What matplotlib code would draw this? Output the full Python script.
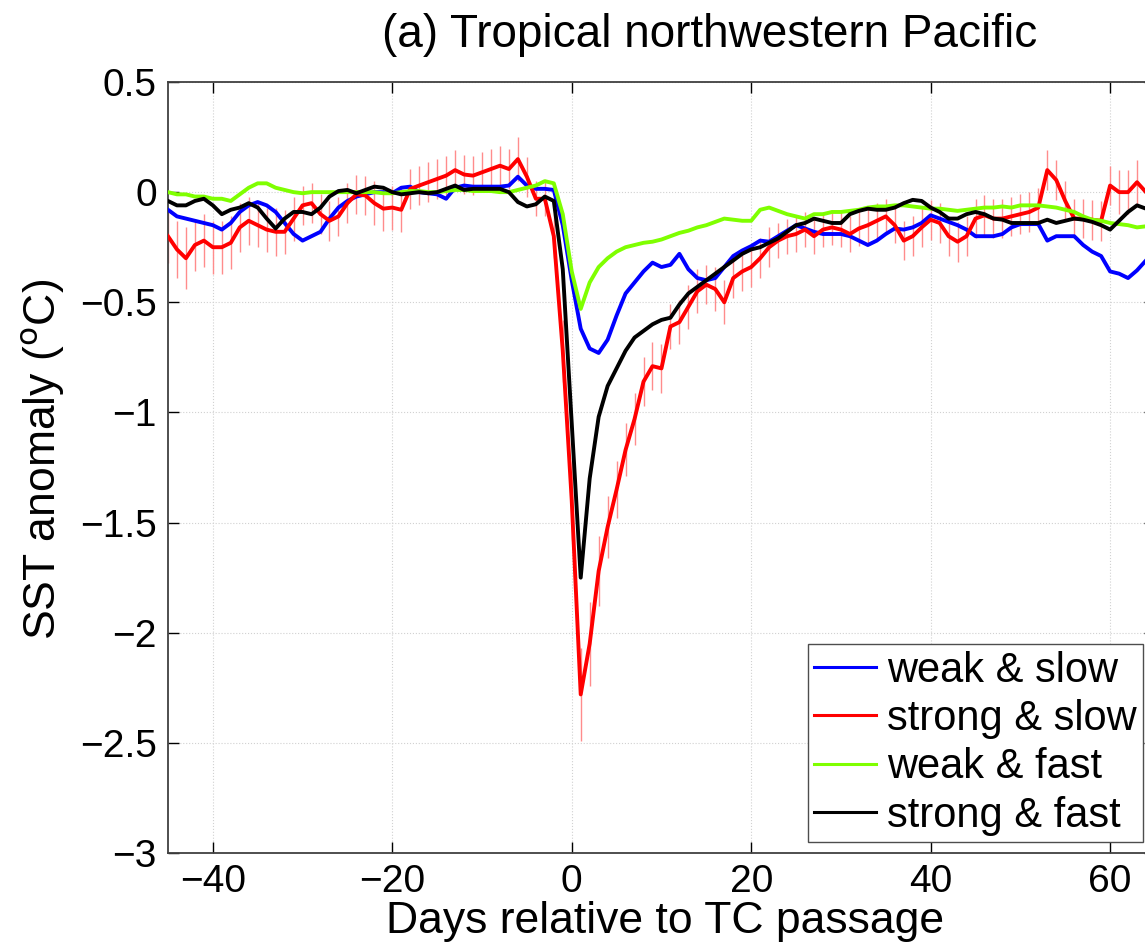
"""
SST anomaly composites around TC passage, tropical northwestern Pacific.

Four composites (weak/strong x slow/fast), red one with its error bars.
Output: out.png
"""

import matplotlib
matplotlib.use("Agg")
import matplotlib.pyplot as plt
import numpy as np

plt.rcParams["font.family"] = ["Liberation Sans", "DejaVu Sans"]

days = np.arange(-45, 65)

weak_slow = [
    -0.08, -0.11, -0.12, -0.13, -0.14, -0.15, -0.17, -0.14, -0.09, -0.06,
    -0.045, -0.06, -0.09, -0.14, -0.19, -0.22, -0.20, -0.18, -0.12, -0.07,
    -0.04, -0.02, -0.01, 0.0, 0.0, -0.005, 0.02, 0.025, 0.0, -0.005,
    -0.01, -0.03, 0.02, 0.03, 0.025, 0.025, 0.025, 0.025, 0.03, 0.07,
    0.03, 0.015, 0.015, 0.01, -0.15, -0.40, -0.62, -0.71, -0.73, -0.67,
    -0.56, -0.46, -0.41, -0.36, -0.32, -0.34, -0.33, -0.28, -0.35, -0.39,
    -0.40, -0.39, -0.34, -0.29, -0.265, -0.245, -0.22, -0.225, -0.20, -0.175,
    -0.15, -0.165, -0.18, -0.19, -0.19, -0.19, -0.20, -0.22, -0.24, -0.22,
    -0.19, -0.165, -0.17, -0.16, -0.14, -0.105, -0.12, -0.135, -0.15, -0.17,
    -0.20, -0.20, -0.20, -0.19, -0.16, -0.145, -0.145, -0.145, -0.22, -0.20,
    -0.20, -0.20, -0.24, -0.27, -0.29, -0.36, -0.37, -0.39, -0.355, -0.31,
]

strong_slow = [
    -0.20, -0.26, -0.30, -0.24, -0.22, -0.25, -0.25, -0.23, -0.16, -0.13,
    -0.15, -0.17, -0.18, -0.18, -0.12, -0.06, -0.05, -0.10, -0.13, -0.11,
    -0.05, -0.01, -0.015, -0.05, -0.075, -0.07, -0.08, 0.015, 0.03, 0.045,
    0.06, 0.075, 0.10, 0.08, 0.075, 0.09, 0.105, 0.12, 0.105, 0.15,
    0.07, -0.03, -0.03, -0.20, -0.72, -1.40, -2.28, -2.05, -1.72, -1.52,
    -1.35, -1.17, -1.03, -0.86, -0.79, -0.80, -0.61, -0.59, -0.52, -0.45,
    -0.42, -0.44, -0.50, -0.39, -0.36, -0.34, -0.30, -0.25, -0.22, -0.20,
    -0.19, -0.17, -0.20, -0.17, -0.16, -0.17, -0.19, -0.165, -0.15, -0.13,
    -0.11, -0.15, -0.22, -0.20, -0.16, -0.125, -0.14, -0.20, -0.225, -0.20,
    -0.12, -0.105, -0.12, -0.12, -0.11, -0.10, -0.09, -0.07, 0.10, 0.055,
    -0.04, -0.12, -0.12, -0.125, -0.13, 0.03, 0.0, 0.0, 0.045, 0.0,
]

strong_slow_err = [
    0.12, 0.13, 0.14, 0.12, 0.12, 0.12, 0.12, 0.12, 0.11, 0.11,
    0.10, 0.10, 0.11, 0.10, 0.10, 0.09, 0.09, 0.09, 0.09, 0.09,
    0.09, 0.09, 0.09, 0.10, 0.10, 0.10, 0.10, 0.09, 0.09, 0.09,
    0.09, 0.09, 0.09, 0.09, 0.09, 0.09, 0.09, 0.09, 0.09, 0.10,
    0.09, 0.08, 0.08, 0.10, 0.14, 0.18, 0.21, 0.19, 0.16, 0.14,
    0.13, 0.12, 0.12, 0.11, 0.11, 0.11, 0.10, 0.10, 0.10, 0.10,
    0.09, 0.10, 0.10, 0.09, 0.09, 0.09, 0.09, 0.09, 0.08, 0.08,
    0.08, 0.08, 0.08, 0.08, 0.08, 0.08, 0.08, 0.08, 0.08, 0.08,
    0.08, 0.08, 0.09, 0.09, 0.09, 0.09, 0.09, 0.09, 0.09, 0.09,
    0.09, 0.09, 0.09, 0.09, 0.09, 0.09, 0.09, 0.09, 0.09, 0.09,
    0.09, 0.09, 0.09, 0.09, 0.09, 0.09, 0.10, 0.10, 0.10, 0.10,
]

weak_fast = [
    0.0, -0.01, -0.01, -0.02, -0.02, -0.03, -0.03, -0.04, -0.01, 0.02,
    0.04, 0.04, 0.02, 0.01, 0.0, -0.005, 0.0, 0.0, 0.0, 0.0,
    0.0, 0.0, 0.0, 0.0, -0.005, -0.005, 0.0, 0.005, 0.005, 0.0,
    0.0, 0.005, 0.01, 0.01, 0.005, 0.005, 0.005, 0.0, 0.0, 0.01,
    0.02, 0.03, 0.05, 0.04, -0.10, -0.36, -0.53, -0.41, -0.34, -0.30,
    -0.27, -0.25, -0.24, -0.23, -0.225, -0.215, -0.20, -0.185, -0.175, -0.16,
    -0.15, -0.135, -0.12, -0.125, -0.13, -0.13, -0.08, -0.07, -0.085, -0.10,
    -0.11, -0.12, -0.10, -0.10, -0.09, -0.09, -0.085, -0.08, -0.07, -0.065,
    -0.065, -0.06, -0.06, -0.065, -0.07, -0.075, -0.075, -0.08, -0.085, -0.08,
    -0.075, -0.07, -0.07, -0.065, -0.07, -0.06, -0.06, -0.06, -0.065, -0.07,
    -0.08, -0.09, -0.11, -0.125, -0.13, -0.14, -0.145, -0.15, -0.16, -0.155,
]

strong_fast = [
    -0.04, -0.06, -0.06, -0.04, -0.03, -0.06, -0.10, -0.08, -0.07, -0.05,
    -0.07, -0.12, -0.165, -0.12, -0.09, -0.09, -0.10, -0.07, -0.02, 0.005,
    0.01, -0.005, 0.01, 0.025, 0.02, 0.0, -0.01, -0.005, 0.0, -0.005,
    0.0, 0.015, 0.03, 0.01, 0.015, 0.015, 0.015, 0.015, 0.0, -0.045,
    -0.065, -0.055, -0.02, -0.04, -0.35, -1.05, -1.75, -1.30, -1.02, -0.88,
    -0.80, -0.72, -0.66, -0.63, -0.60, -0.58, -0.57, -0.51, -0.46, -0.43,
    -0.40, -0.37, -0.34, -0.31, -0.28, -0.26, -0.25, -0.23, -0.21, -0.18,
    -0.15, -0.14, -0.12, -0.13, -0.14, -0.14, -0.10, -0.085, -0.075, -0.08,
    -0.08, -0.07, -0.05, -0.035, -0.04, -0.07, -0.09, -0.12, -0.12, -0.10,
    -0.09, -0.10, -0.12, -0.125, -0.14, -0.14, -0.14, -0.14, -0.125, -0.14,
    -0.13, -0.12, -0.125, -0.135, -0.15, -0.17, -0.13, -0.09, -0.06, -0.075,
]

series_labels = ["weak & slow", "strong & slow", "weak & fast", "strong & fast"]
series_colors = ["#0000ff", "#ff0000", "#7fff00", "#000000"]

xticks = [-40, -20, 0, 20, 40, 60]
yticks = [0.5, 0, -0.5, -1, -1.5, -2, -2.5, -3]
ytick_labels = ["0.5", "0", "\u22120.5", "\u22121", "\u22121.5", "\u22122", "\u22122.5", "\u22123"]
xtick_labels = ["\u221240", "\u221220", "0", "20", "40", "60"]


def main() -> None:
    fig = plt.figure(figsize=(11.45, 9.48), dpi=100)
    # right edge runs past the figure, as in the cropped original
    ax = fig.add_axes([0.1467, 0.1002, 0.862, 0.8133])

    ax.errorbar(days, strong_slow, yerr=strong_slow_err, fmt="none",
                ecolor=(1.0, 0.55, 0.55), elinewidth=1.0, capsize=0, zorder=2)

    all_series = [weak_slow, strong_slow, weak_fast, strong_fast]
    for vals, lab, col in zip(all_series, series_labels, series_colors):
        ax.plot(days, vals, color=col, lw=2.8, label=lab, zorder=3)

    ax.set_xlim(-45, 65)
    ax.set_ylim(-3, 0.5)
    ax.set_xticks(xticks)
    ax.set_xticklabels(xtick_labels)
    ax.set_yticks(yticks)
    ax.set_yticklabels(ytick_labels)
    ax.tick_params(direction="in", length=8, width=1, top=True, right=True,
                   labelsize=28, pad=8)
    ax.grid(True, color="0.82", linestyle=":", linewidth=0.8)
    for sp in ax.spines.values():
        sp.set_color("0.25")
        sp.set_linewidth(1.3)

    ax.set_xlabel("Days relative to TC passage", fontsize=32)
    ax.xaxis.set_label_coords(0.5035, -0.062)
    ax.set_ylabel(r"SST anomaly ($^{\mathrm{o}}$C)", fontsize=32)
    ax.yaxis.set_label_coords(-0.102, 0.51)
    fig.text(0.62, 0.963, "(a) Tropical northwestern Pacific", fontsize=33,
             ha="center", va="center")

    leg = fig.legend(loc="lower right", bbox_to_anchor=(0.998, 0.112),
                     fontsize=30, handlelength=1.5, handletextpad=0.25,
                     labelspacing=0.2, borderpad=0.15, borderaxespad=0,
                     fancybox=False, framealpha=1)
    leg.get_frame().set_edgecolor("0.3")
    leg.get_frame().set_linewidth(1.0)
    for line in leg.get_lines():
        line.set_linewidth(2.2)

    fig.savefig("out.png", dpi=100)
    plt.close(fig)


if __name__ == "__main__":
    main()
